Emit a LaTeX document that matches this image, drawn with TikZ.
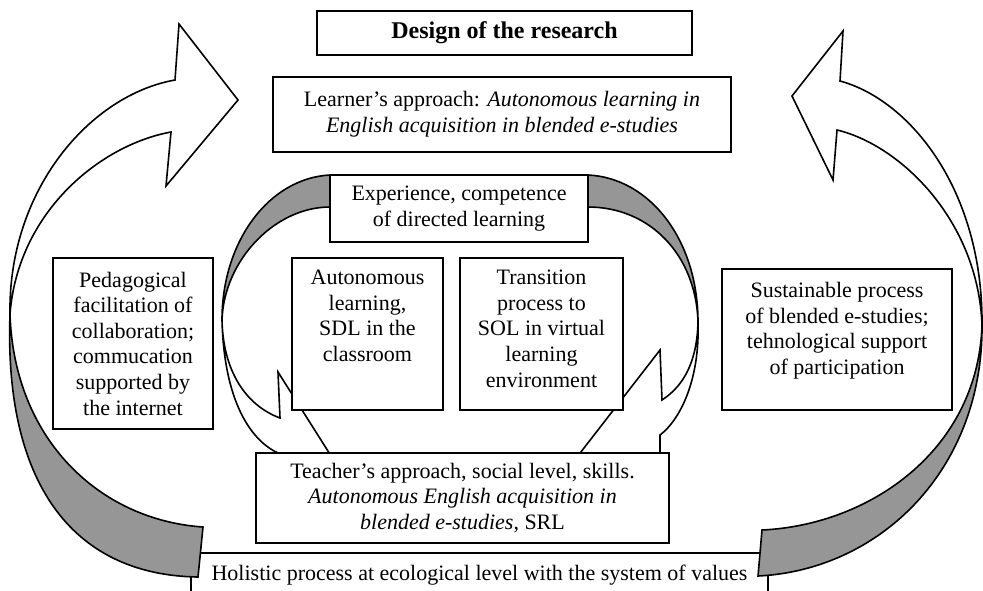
\documentclass[tikz,border=0pt]{standalone}
\usepackage{fontspec}
\setmainfont{Liberation Serif}
\definecolor{ribbongray}{RGB}{150,150,150}
\tikzset{
  box/.style={draw, line width=1pt, fill=white, inner sep=0pt, align=center},
  boxtext/.style={anchor=north, align=center, inner sep=0pt},
  ribbon/.style={draw, line width=0.8pt, fill=white, line join=miter},
  ribbonback/.style={ribbon, fill=ribbongray},
}
\begin{document}
\begin{tikzpicture}[x=0.5pt, y=-0.5pt, font=\fontsize{11}{12.8}\selectfont]
\useasboundingbox (0,0) rectangle (983,590);

\node (holistic) [box, minimum width=288.5pt, minimum height=22pt] at (479.5,575)
  {Holistic process at ecological level with the system of values};

% outer arrows
\path[ribbon] (175,80) -- (179,24) -- (238,100) -- (166,186) -- (171,132)
  .. controls (100,145) and (18,212) .. (10,314)
  .. controls (8,190) and (90,95) .. (175,80) -- cycle;
\path[ribbonback] (10,314) .. controls (4,480) and (70,575) .. (198,577)
  -- (203,527) .. controls (100,520) and (14,440) .. (10,314) -- cycle;
\path[ribbon] (840,81) -- (843,31) -- (792,96) -- (833,180) -- (837,130)
  .. controls (900,145) and (978,220) .. (982,325)
  .. controls (983,190) and (910,100) .. (840,81) -- cycle;
\path[ribbonback] (982,325) .. controls (983,470) and (880,570) .. (758,576)
  -- (762,530) .. controls (870,525) and (978,450) .. (982,325) -- cycle;

% inner arrows
\path[ribbonback] (350,175) -- (330,175) .. controls (270,178) and (222,240) .. (222,320)
  .. controls (224,260) and (275,207) .. (330,207) -- (350,207) -- cycle;
\path[ribbon] (222,320) .. controls (224,400) and (250,440) .. (278,453)
  -- (290,462) -- (300,490) -- (345,478) -- (278,372) -- (280,418)
  .. controls (245,405) and (223,370) .. (222,320) -- cycle;
\path[ribbonback] (570,175) -- (588,175) .. controls (650,178) and (698,240) .. (698,322)
  .. controls (696,255) and (650,207) .. (588,207) -- (570,207) -- cycle;
\path[ribbon] (698,322) .. controls (700,380) and (680,420) .. (660,435)
  -- (660,470) -- (640,500) -- (570,466) -- (660,350) -- (662,400)
  .. controls (685,385) and (697,360) .. (698,322) -- cycle;

\node (design) [box, minimum width=187.5pt, minimum height=22pt,
  font=\fontsize{12}{14}\selectfont\bfseries] at (504.5,33) {Design of the research};
\node (learner) [box, minimum width=229pt, minimum height=37.5pt] at (502,114.5)
  {Learner's approach: \textit{Autonomous learning in}\\ \textit{English acquisition in blended e-studies}};
\node (experience) [box, minimum width=129pt, minimum height=33.5pt] at (459,208.5)
  {Experience, competence\\ of directed learning};
\node (sdl) [box, minimum width=75.5pt, minimum height=76pt] at (367.5,334) {};
\node (sol) [box, minimum width=81.5pt, minimum height=76pt] at (541.5,334) {};
\node (pedagogy) [box, minimum width=80pt, minimum height=85.5pt] at (133,343.5)
  {Pedagogical\\ facilitation of\\ collaboration;\\ commucation\\ supported by\\ the internet};
\node (sustain) [box, minimum width=115pt, minimum height=70.5pt] at (837,339.5) {};
\node (teacher) [box, minimum width=206.5pt, minimum height=45pt] at (462.5,498)
  {Teacher's approach, social level, skills.\\ \textit{Autonomous English acquisition in}\\ \textit{blended e-studies}, SRL};

\node (sdltext) [boxtext] at ([yshift=-6.4pt]sdl.north)
  {Autonomous\\ learning,\\ SDL in the\\ classroom};
\node (soltext) [boxtext] at ([yshift=-6.4pt]sol.north)
  {Transition\\ process to\\ SOL in virtual\\ learning\\ environment};
\node (sustaintext) [boxtext] at ([yshift=-7pt]sustain.north)
  {Sustainable process\\ of blended e-studies;\\ tehnological support\\ of participation};
\end{tikzpicture}
\end{document}
